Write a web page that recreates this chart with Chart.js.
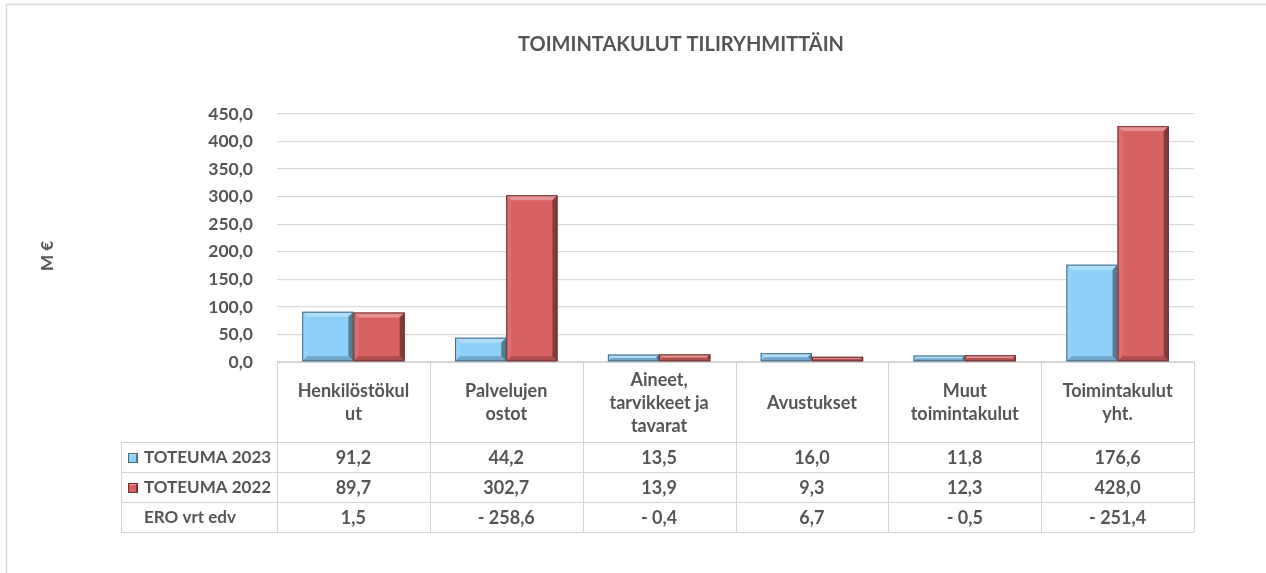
<!DOCTYPE html>
<html><head><meta charset="utf-8">
<script src="https://cdn.jsdelivr.net/npm/chart.js@4.4.0/dist/chart.umd.min.js"></script>
<style>html,body{margin:0;padding:0;background:#fff;}#wrap{width:1266px;height:573px;position:relative}</style>
</head><body><div id="wrap"><canvas id="c" width="1266" height="573"></canvas></div>
<script>
const chartTitle = "TOIMINTAKULUT TILIRYHMITTÄIN";
const yAxisTitle = "M €";
const categories = [["Henkilöstökul","ut"],["Palvelujen","ostot"],["Aineet,","tarvikkeet ja","tavarat"],["Avustukset"],["Muut","toimintakulut"],["Toimintakulut","yht."]];
const seriesNames = ["TOTEUMA 2023","TOTEUMA 2022"];
const toteuma2023 = [91.2,44.2,13.5,16.0,11.8,176.6];
const toteuma2022 = [89.7,302.7,13.9,9.3,12.3,428.0];
const eroName = "ERO vrt edv";
const eroValues = [1.5,-258.6,-0.4,6.7,-0.5,-251.4];
const yMin = 0, yMax = 450, yStep = 50;

const FONT = "Lato, 'Open Sans', sans-serif";
const TXT = "#555555";
const GRID = "#d9d9d9";
const COLORS = ["#8ecff8","#d86262"];

function fmt(v){
  const s = Math.abs(v).toFixed(1).replace('.',',');
  return v < 0 ? "- " + s : s;
}

function shade(hex, amt){
  const n = parseInt(hex.slice(1),16);
  let r=(n>>16)&255,g=(n>>8)&255,b=n&255;
  if(amt>=0){r+= (255-r)*amt; g+=(255-g)*amt; b+=(255-b)*amt;}
  else {r*=1+amt; g*=1+amt; b*=1+amt;}
  return `rgb(${Math.round(r)},${Math.round(g)},${Math.round(b)})`;
}

const decor = {
  id:'decor',
  beforeDraw(chart){
    const ctx = chart.ctx;
    ctx.save();
    ctx.fillStyle = '#fff';
    ctx.fillRect(0,0,chart.width,chart.height);
    ctx.strokeStyle = '#d9d9d9';
    ctx.lineWidth = 1.5;
    ctx.strokeRect(6.5,4.5,chart.width+20,chart.height+20);
    ctx.restore();
  },
  afterDatasetsDraw(chart){
    const ctx = chart.ctx;
    chart.data.datasets.forEach((ds,di)=>{
      const meta = chart.getDatasetMeta(di);
      const base = COLORS[di];
      meta.data.forEach(bar=>{
        const {x,y,base:b,width} = bar.getProps(['x','y','base','width'],true);
        const l = x - width/2, r = x + width/2, t = Math.min(y,b), bt = Math.max(y,b);
        const h = bt - t;
        const d = Math.min(5, h/2, width/2);
        ctx.save();
        ctx.fillStyle = shade(base, 0.3);
        ctx.beginPath(); ctx.moveTo(l,t); ctx.lineTo(r,t); ctx.lineTo(r-d,t+d); ctx.lineTo(l+d,t+d); ctx.closePath(); ctx.fill();
        ctx.fillStyle = shade(base, 0.08);
        ctx.beginPath(); ctx.moveTo(l,t); ctx.lineTo(l+d,t+d); ctx.lineTo(l+d,bt-d); ctx.lineTo(l,bt); ctx.closePath(); ctx.fill();
        ctx.fillStyle = shade(base, -0.4);
        ctx.beginPath(); ctx.moveTo(r,t); ctx.lineTo(r-d,t+d); ctx.lineTo(r-d,bt-d); ctx.lineTo(r,bt); ctx.closePath(); ctx.fill();
        ctx.fillStyle = shade(base, -0.2);
        ctx.beginPath(); ctx.moveTo(l,bt); ctx.lineTo(l+d,bt-d); ctx.lineTo(r-d,bt-d); ctx.lineTo(r,bt); ctx.closePath(); ctx.fill();
        ctx.strokeStyle = shade(base, -0.5);
        ctx.lineWidth = 1;
        ctx.strokeRect(l+0.5,t+0.5,width-1,h-1);
        ctx.restore();
      });
    });
  },
  afterDraw(chart){
    const ctx = chart.ctx;
    const xs = chart.scales.x;
    const ca = chart.chartArea;
    const n = categories.length;
    const colW = (ca.right - ca.left)/n;
    ctx.save();
    ctx.fillStyle = TXT;
    ctx.font = `bold 20px ${FONT}`;
    ctx.textAlign = 'center'; ctx.textBaseline = 'middle';
    ctx.fillText(chartTitle, 681, 45);
    ctx.save();
    ctx.translate(48, 256);
    ctx.rotate(-Math.PI/2);
    ctx.font = `bold 17px ${FONT}`;
    ctx.fillText(yAxisTitle, 0, 0);
    ctx.restore();

    const tLeft = 121;
    const hTop = ca.bottom;
    const rows = [442, 472, 502, 532];
    ctx.strokeStyle = '#d4d4d4';
    ctx.lineWidth = 1;
    ctx.beginPath();
    ctx.moveTo(ca.left, hTop+0.5); ctx.lineTo(ca.right, hTop+0.5);
    rows.forEach(ry=>{ ctx.moveTo(tLeft, ry+0.5); ctx.lineTo(ca.right, ry+0.5); });
    for(let i=0;i<=n;i++){
      const xx = Math.round(ca.left + i*colW)+0.5;
      ctx.moveTo(xx, hTop); ctx.lineTo(xx, rows[3]);
    }
    ctx.moveTo(tLeft+0.5, rows[0]); ctx.lineTo(tLeft+0.5, rows[3]);
    ctx.stroke();

    ctx.fillStyle = TXT;
    ctx.font = `bold 18px ${FONT}`;
    const lh = 23;
    categories.forEach((lines,i)=>{
      const cx = xs.getPixelForValue(i);
      const cy = 403;
      lines.forEach((ln,k)=>{
        ctx.fillText(ln, cx, cy + (k - (lines.length-1)/2)*lh);
      });
    });
    const rowData = [toteuma2023.map(fmt), toteuma2022.map(fmt), eroValues.map(fmt)];
    rowData.forEach((vals,r)=>{
      const cy = (rows[r]+rows[r+1])/2 + 1;
      vals.forEach((v,i)=>{
        ctx.fillText(v, xs.getPixelForValue(i), cy);
      });
    });
    ctx.textAlign = 'left';
    ctx.font = `bold 17px ${FONT}`;
    const legNames = [seriesNames[0], seriesNames[1], eroName];
    legNames.forEach((nm,r)=>{
      const cy = (rows[r]+rows[r+1])/2 + 1;
      if(r<2){
        const c = COLORS[r];
        const mx = 128, my = cy-5, ms = 10;
        ctx.fillStyle = c;
        ctx.fillRect(mx,my,ms,ms);
        ctx.fillStyle = shade(c,0.35);
        ctx.beginPath(); ctx.moveTo(mx,my); ctx.lineTo(mx+ms,my); ctx.lineTo(mx+ms-2,my+2); ctx.lineTo(mx+2,my+2); ctx.closePath(); ctx.fill();
        ctx.fillStyle = shade(c,-0.45);
        ctx.beginPath(); ctx.moveTo(mx+ms,my); ctx.lineTo(mx+ms,my+ms); ctx.lineTo(mx+ms-2,my+ms-2); ctx.lineTo(mx+ms-2,my+2); ctx.closePath(); ctx.fill();
        ctx.strokeStyle = shade(c,-0.5);
        ctx.strokeRect(mx+0.5,my+0.5,ms-1,ms-1);
      }
      ctx.fillStyle = TXT;
      ctx.fillText(nm, r<2 ? 144 : 144, cy);
    });
    ctx.restore();
  }
};

new Chart(document.getElementById('c'), {
  type:'bar',
  data:{
    labels: categories.map(c=>c.join(' ')),
    datasets:[
      {label:seriesNames[0], data:toteuma2023, backgroundColor:COLORS[0], borderWidth:0},
      {label:seriesNames[1], data:toteuma2022, backgroundColor:COLORS[1], borderWidth:0}
    ]
  },
  options:{
    responsive:false,
    animation:false,
    devicePixelRatio:1,
    layout:{padding:{top:114,right:72,bottom:211,left:0}},
    datasets:{bar:{categoryPercentage:0.67,barPercentage:1.0}},
    plugins:{legend:{display:false},title:{display:false},tooltip:{enabled:false}},
    scales:{
      x:{display:false},
      y:{
        min:yMin,max:yMax,
        afterFit(s){ s.width = 277; },
        ticks:{stepSize:yStep,padding:24,color:TXT,font:{family:FONT,size:17.5,weight:'bold'},
          callback:v=>v.toFixed(1).replace('.',',')},
        grid:{color:GRID,lineWidth:1.3,drawTicks:false},
        border:{display:false}
      }
    }
  },
  plugins:[decor]
});
</script></body></html>
